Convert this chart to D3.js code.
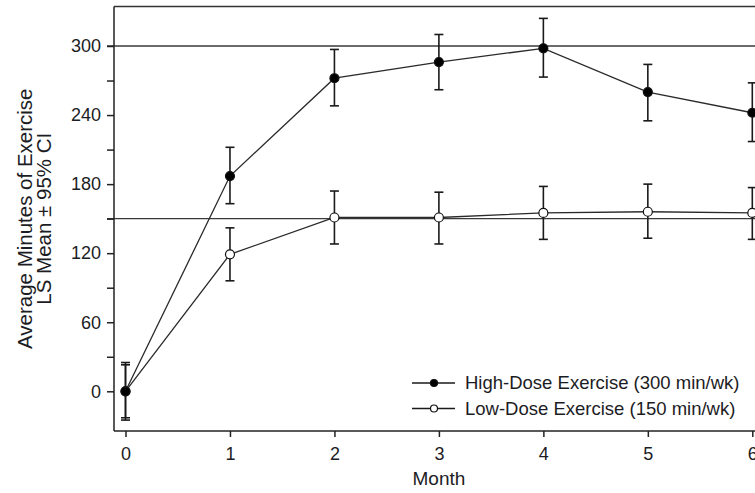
<!DOCTYPE html>
<html>
<head>
<meta charset="utf-8">
<script src="https://cdn.jsdelivr.net/npm/d3@7"></script>
<style>
  body { margin: 0; background: #fff; }
  svg { display: block; font-family: "Liberation Sans", Arial, sans-serif; }
</style>
</head>
<body>
<svg width="755" height="493"></svg>
<script>
// values
const months = [0, 1, 2, 3, 4, 5, 6]
const highMean = [0, 187, 272, 286, 298, 260, 242]
const highLow = [-25, 163, 248, 262, 273, 235, 217]
const highHigh = [25, 212, 297, 310, 324, 284, 268]
const lowMean = [0, 119, 151, 151, 155, 156, 155]
const lowLow = [-23, 96, 128, 128, 132, 133, 132]
const lowHigh = [23, 142, 174, 173, 178, 180, 177]
const yTicks = [0, 60, 120, 180, 240, 300]
const refLines = [150, 300]
const seriesNames = ['High-Dose Exercise (300 min/wk)', 'Low-Dose Exercise (150 min/wk)']

const width = 755
const frame = {left: 114, top: 6.5, bottom: 431}

const x = d3.scaleLinear().domain([0, 6]).range([125.5, 752.3])
const y = d3.scaleLinear().domain([0, 300]).range([391.3, 46])

const series = [
  {name: seriesNames[0], mean: highMean, lo: highLow, hi: highHigh, fill: '#000'},
  {name: seriesNames[1], mean: lowMean, lo: lowLow, hi: lowHigh, fill: '#fff'}
].map(s => ({...s, pts: months.map((m, i) => ({m, v: s.mean[i], lo: s.lo[i], hi: s.hi[i]}))}))

const svg = d3.select('svg')
const ink = '#1c1c24'

// reference lines
svg.append('g').selectAll('line')
  .data(refLines)
  .join('line')
  .attr('x1', frame.left - 7).attr('x2', width)
  .attr('y1', d => y(d)).attr('y2', d => y(d))
  .attr('stroke', '#3a3a3a').attr('stroke-width', 1.3)

// frame top
svg.append('line')
  .attr('x1', frame.left).attr('x2', width)
  .attr('y1', frame.top).attr('y2', frame.top)
  .attr('stroke', '#333').attr('stroke-width', 1.5)

const yAxis = g => g.attr('transform', `translate(${frame.left},0)`)
  .call(d3.axisLeft(y).tickValues(d3.range(0, 301, 30)).tickSize(7)
    .tickFormat(d => yTicks.includes(d) ? d : '').tickPadding(6))
  .call(g => g.select('.domain').attr('d', `M0,${frame.top}V${frame.bottom}`))

const xAxis = g => g.attr('transform', `translate(0,${frame.bottom})`)
  .call(d3.axisBottom(x).tickValues(months).tickFormat(d3.format('d'))
    .tickSize(6).tickPadding(10).tickSizeOuter(0))
  .call(g => g.select('.domain').attr('d', `M${frame.left},0H${width}`))

for (const ax of [yAxis, xAxis]) {
  svg.append('g').call(ax)
    .call(g => g.selectAll('.domain, line').attr('stroke', '#222').attr('stroke-width', 1.5))
    .call(g => g.selectAll('text').attr('font-size', 18).attr('fill', ink).attr('font-family', null))
}

svg.append('text')
  .attr('x', x(3)).attr('y', 485)
  .attr('text-anchor', 'middle')
  .attr('font-size', 19).attr('fill', ink)
  .text('Month')

const yl = svg.append('text')
  .attr('transform', `translate(0,${(frame.top + frame.bottom) / 2}) rotate(-90)`)
  .attr('text-anchor', 'middle')
  .attr('font-size', 20.5).attr('fill', ink)
yl.append('tspan').attr('x', 0).attr('y', 32).text('Average Minutes of Exercise')
yl.append('tspan').attr('x', 0).attr('y', 51).text('LS Mean \u00b1 95% CI')

const line = d3.line().x(d => x(d.m)).y(d => y(d.v))

const sg = svg.selectAll('g.series')
  .data(series)
  .join('g')
  .attr('class', 'series')

sg.append('path')
  .attr('d', d => line(d.pts))
  .attr('fill', 'none').attr('stroke', '#2a2a2a').attr('stroke-width', 1.3)

sg.each(function(s) {
  const g = d3.select(this).selectAll('g.err')
    .data(s.pts)
    .join('g')
    .attr('class', 'err')
    .attr('stroke', '#1a1a1a').attr('stroke-width', 1.6)
  g.append('line')
    .attr('x1', d => x(d.m)).attr('x2', d => x(d.m))
    .attr('y1', d => y(d.lo)).attr('y2', d => y(d.hi))
  for (const k of ['lo', 'hi']) {
    g.append('line')
      .attr('x1', d => x(d.m) - 4.5).attr('x2', d => x(d.m) + 4.5)
      .attr('y1', d => y(d[k])).attr('y2', d => y(d[k]))
  }
})

// markers on top, low dose first so the filled one at month 0 shows
sg.sort((a, b) => a.fill === '#000' ? 1 : -1)
sg.selectAll('circle')
  .data(s => s.pts.map(p => ({...p, fill: s.fill})))
  .join('circle')
  .attr('cx', d => x(d.m)).attr('cy', d => y(d.v))
  .attr('r', 4.5)
  .attr('fill', d => d.fill).attr('stroke', '#111').attr('stroke-width', 1.2)

// legend
const legend = svg.append('g')
  .selectAll('g')
  .data(series)
  .join('g')
  .attr('transform', (d, i) => `translate(412,${383 + i * 25.5})`)
legend.append('line')
  .attr('x1', 0).attr('x2', 43)
  .attr('stroke', '#1a1a1a').attr('stroke-width', 1.6)
legend.append('circle')
  .attr('cx', 22).attr('r', 3.5)
  .attr('fill', d => d.fill).attr('stroke', '#111').attr('stroke-width', 1.2)
legend.append('text')
  .attr('x', 53).attr('dy', '0.35em')
  .attr('font-size', 18.5).attr('fill', ink)
  .text(d => d.name)
</script>
</body>
</html>
